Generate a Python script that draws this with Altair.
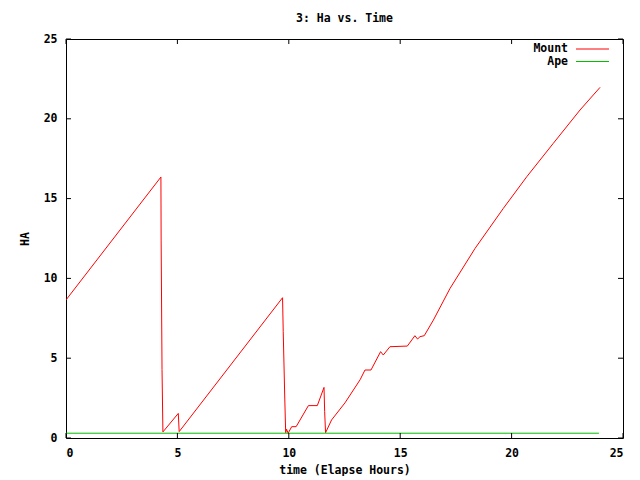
import altair as alt
import pandas as pd

# Mount series (time in elapsed hours, HA)
mount_t = [0.00, 4.26, 4.27, 4.31, 4.35, 5.04, 5.08, 9.72, 9.75, 9.82, 9.86, 9.90, 9.97,
           10.13, 10.33, 10.88, 11.28, 11.58, 11.61, 11.65, 11.92, 12.52, 13.20, 13.42,
           13.69, 14.12, 14.24, 14.54, 15.32, 15.66, 15.78, 15.89, 16.08, 16.49, 17.24,
           18.36, 19.63, 20.68, 21.87, 23.07, 23.97]
mount_ha = [8.65, 16.35, 12.40, 4.30, 0.38, 1.54, 0.40, 8.79, 6.66, 2.44, 0.33, 0.55, 0.30,
            0.71, 0.71, 2.03, 2.03, 3.17, 1.65, 0.33, 1.13, 2.20, 3.65, 4.26,
            4.26, 5.41, 5.20, 5.72, 5.76, 6.41, 6.20, 6.35, 6.41, 7.39, 9.38,
            11.88, 14.39, 16.37, 18.46, 20.55, 21.97]

# Ape series
ape_t = [0.00, 23.92]
ape_ha = [0.30, 0.30]

series_names = ["Mount", "Ape"]
series_colors = ["#ff0000", "#00c000"]
tick_values = [0, 5, 10, 15, 20, 25]

FONT = "DejaVu Sans Mono"
FS = 11.5
W, H = 557, 399
TICK = 5

df = pd.concat([
    pd.DataFrame({"t": mount_t, "ha": mount_ha, "series": "Mount"}),
    pd.DataFrame({"t": ape_t, "ha": ape_ha, "series": "Ape"}),
])

xscale = alt.Scale(domain=[0, 25], nice=False, zero=False)
yscale = alt.Scale(domain=[0, 25], nice=False, zero=False)

lines = alt.Chart(df).mark_line(strokeWidth=1, clip=True).encode(
    x=alt.X("t:Q", scale=xscale,
            axis=alt.Axis(values=tick_values, title="time (Elapse Hours)", format="d")),
    y=alt.Y("ha:Q", scale=yscale,
            axis=alt.Axis(values=tick_values, title="HA", format="d")),
    color=alt.Color("series:N", scale=alt.Scale(domain=series_names, range=series_colors),
                    legend=None),
    detail="series:N",
)

ticks_df = pd.DataFrame({"v": tick_values})
tb = alt.Chart(ticks_df)
tick_layers = [
    tb.mark_rule(color="black", strokeWidth=1).encode(
        x=alt.X("v:Q", scale=xscale), y=alt.value(H), y2=alt.value(H - TICK)),
    tb.mark_rule(color="black", strokeWidth=1).encode(
        x=alt.X("v:Q", scale=xscale), y=alt.value(0), y2=alt.value(TICK)),
    tb.mark_rule(color="black", strokeWidth=1).encode(
        y=alt.Y("v:Q", scale=yscale), x=alt.value(0), x2=alt.value(TICK)),
    tb.mark_rule(color="black", strokeWidth=1).encode(
        y=alt.Y("v:Q", scale=yscale), x=alt.value(W), x2=alt.value(W - TICK)),
]

# Manual gnuplot-style legend (label left, sample line right)
legend_layers = []
one = alt.Chart(pd.DataFrame({"k": [0]}))
for i, (name, col) in enumerate(zip(series_names, series_colors)):
    yy = 10 + i * 12.5
    legend_layers.append(one.mark_text(
        align="right", baseline="middle", font=FONT, fontSize=FS, fontWeight="bold",
        color="black", text=name).encode(x=alt.value(502), y=alt.value(yy)))
    legend_layers.append(one.mark_rule(color=col, strokeWidth=1).encode(
        x=alt.value(510), x2=alt.value(543), y=alt.value(yy)))

chart = alt.layer(lines, *tick_layers, *legend_layers).properties(
    width=W, height=H,
    title=alt.TitleParams("3: Ha vs. Time", font=FONT, fontSize=FS, fontWeight="bold",
                          color="black", anchor="middle", offset=9),
    autosize=alt.AutoSizeParams(type="none"),
    padding={"left": 58, "top": 31, "right": 9, "bottom": 38},
    background="white",
).configure_view(
    stroke="black", strokeWidth=1,
).configure_axis(
    grid=False, ticks=False, tickSize=0, domain=False,
    labelFont=FONT, labelFontSize=FS, labelFontWeight="bold", labelColor="black",
    titleFont=FONT, titleFontSize=FS, titleFontWeight="bold", titleColor="black",
).configure_axisX(
    labelPadding=9, titlePadding=6,
).configure_axisY(
    labelPadding=9, titlePadding=13,
)

chart.save("out.html", embed_options={"renderer": "svg", "actions": False})
